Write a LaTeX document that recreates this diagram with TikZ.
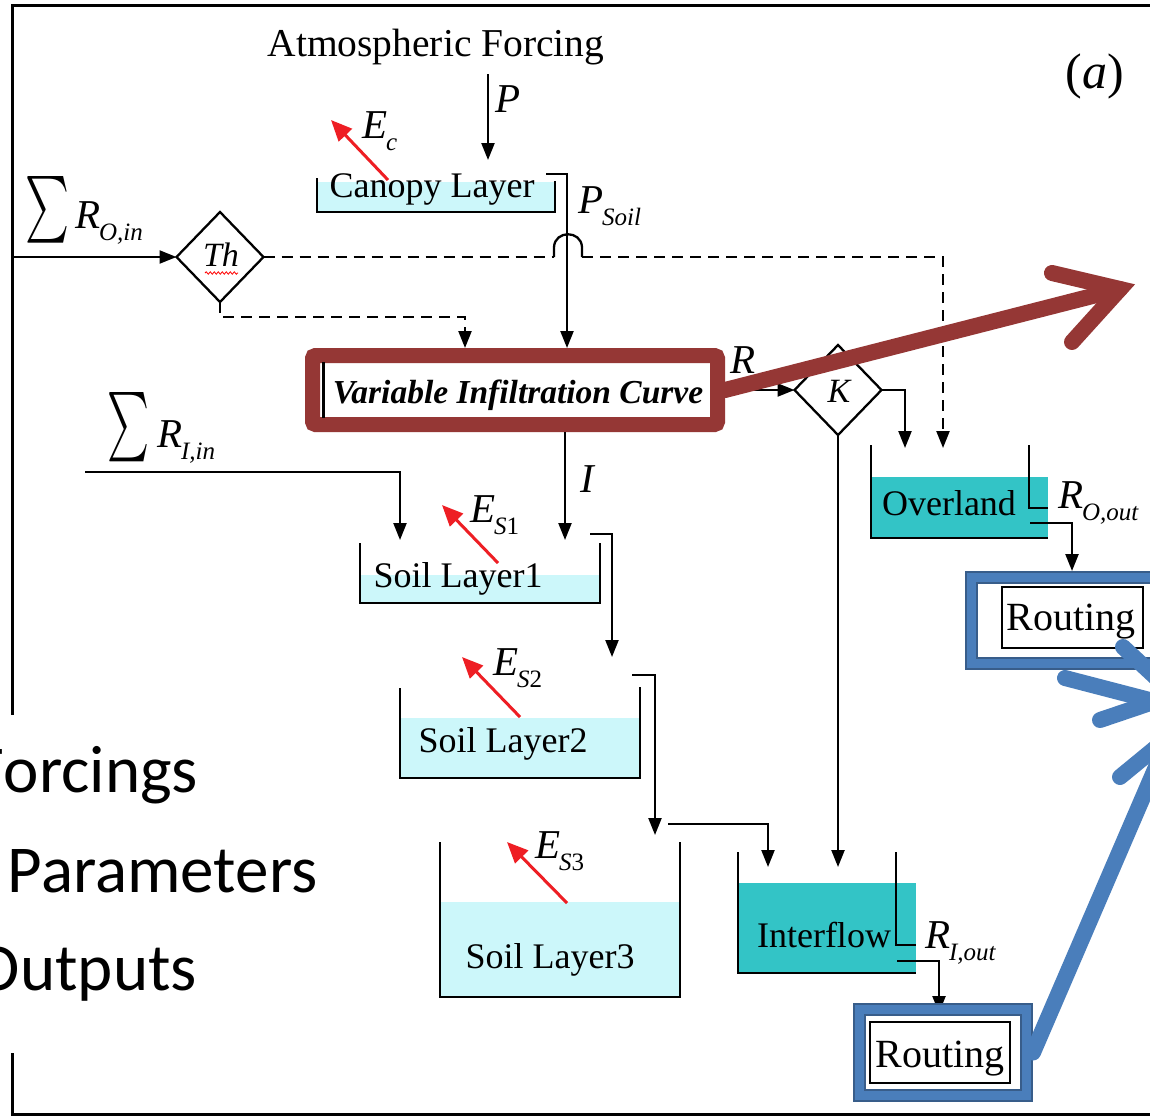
\documentclass[tikz,border=0pt]{standalone}
\usepackage{fontspec}
\usepackage{graphicx}
\setmainfont{Liberation Serif}
\newfontfamily\calfont{Carlito}
\usetikzlibrary{arrows.meta,shapes.geometric,decorations.pathmorphing}
\definecolor{lcyan}{RGB}{204,247,250}
\definecolor{tealf}{RGB}{51,196,198}
\definecolor{dred}{RGB}{149,55,53}
\definecolor{bblue}{RGB}{74,126,187}
\definecolor{dblue}{RGB}{56,93,138}
\definecolor{ered}{RGB}{238,30,36}
\newcommand{\vx}[2]{\textit{#1}\kern-1pt\raisebox{-12pt}{\fontsize{25}{26}\selectfont\textit{#2}}}
\begin{document}
\begin{tikzpicture}[x=1pt,y=-1pt,
  every node/.style={inner sep=0pt, outer sep=0pt},
  ln/.style={line width=2.3pt},
  wall/.style={line width=2.8pt},
  arr/.style={line width=2.3pt, -{Triangle[length=17pt,width=13pt]}},
  dsh/.style={line width=2.3pt, dash pattern=on 11pt off 7pt},
  evap/.style={draw=ered, line width=3pt, -{Triangle[length=21pt,width=18pt]}},
  lbl/.style={font=\fontsize{36}{40}\selectfont},
  var/.style={font=\fontsize{41}{44}\selectfont\itshape},
  dia/.style={diamond, draw, line width=2.3pt, minimum width=87pt, minimum height=90pt, aspect=1},
  bbox/.style={draw=dblue, double=bblue, line width=2pt, double distance=9pt, outer sep=6.5pt},
  rbox/.style={draw, line width=1.8pt},
  bigred/.style={draw=dred, line width=16pt, line cap=round, line join=miter},
  bigblue/.style={draw=bblue, line width=16pt, line cap=round}
]
\useasboundingbox (0,0) rectangle (1150,1117);
\clip (0,0) rectangle (1150,1117);
\fill[white] (0,0) rectangle (1150,1117);

% frame
\draw[line width=3pt] (1160,5) -- (12,5) -- (12,715);
\draw[line width=3pt] (12,1053) -- (12,1114) -- (1160,1114);

% texts
\node[font=\fontsize{39.5}{42}\selectfont, anchor=base] (atm) at (436,56) {Atmospheric Forcing};
\node[font=\fontsize{50}{52}\selectfont, anchor=base] (plabel) at (1095,88) {(\textit{a})};

% canopy
\fill[lcyan] (318,182) rectangle (554,211);
\draw[wall] (317,178) |- (555,212) -- (555,181);
\node[lbl, anchor=base] (canopy) at (432,197) {Canopy Layer};

% coordinates
\coordinate (pstart) at (488,74);
\coordinate (canin) at (488,160);
\coordinate (cov) at (546,174);
\coordinate (x567) at (567,0);
\coordinate (x465) at (465,0);
\coordinate (x1072) at (1072,0);
\coordinate (roin) at (12,257);
\coordinate (thd) at (220,317);
\coordinate (hopL) at (554,257);
\coordinate (hopR) at (582,257);
\coordinate (ovin2) at (943,448);
\coordinate (ovin1) at (905,448);
\coordinate (ifin2) at (838,867);
\coordinate (s1inR) at (565,540);
\coordinate (riin) at (85,472);
\coordinate (s1inL) at (400,540);
\coordinate (s1ov) at (590,534);
\coordinate (s2in) at (612,657);
\coordinate (s2ov) at (632,675);
\coordinate (s3in) at (655,835);
\coordinate (s3out) at (668,824);
\coordinate (ifin1) at (768,867);
\coordinate (ovout) at (1030,523);
\coordinate (ifout) at (897,961);
\coordinate (ifend) at (939,1013);

% VIC box
\node[draw=dred, line width=15pt, rounded corners=3pt, outer sep=7.5pt, minimum width=405pt, minimum height=69pt] (vic) at (515,390) {};
\draw[line width=3pt] (323,362) -- (323,418);
\node[font=\fontsize{33.5}{36}\selectfont\bfseries\itshape, anchor=base] (vict) at (518,403) {Variable Infiltration Curve};

% diamonds
\node[dia] (th) at (220,257) {};
\node[font=\fontsize{34}{36}\selectfont\itshape, anchor=base] (tht) at (221,266) {Th};
\draw[red, line width=0.8pt, decorate, decoration={snake, amplitude=1.2pt, segment length=4pt}] (205,273) -- (238,273);
\node[dia] (k) at (838,390) {};
\node[font=\fontsize{34}{36}\selectfont\itshape, anchor=base] (kt) at (839,402) {K};

% tanks
\fill[lcyan] (361,575) rectangle (599,602);
\draw[wall] (360,543) |- (600,603) -- (600,543);
\node[lbl, anchor=base] (s1) at (458,587) {Soil Layer1};
\fill[lcyan] (401,718) rectangle (639,777);
\draw[wall] (400,688) |- (640,778) -- (640,687);
\node[lbl, anchor=base] (s2) at (503,752) {Soil Layer2};
\fill[lcyan] (441,902) rectangle (679,996);
\draw[wall] (440,842) |- (680,997) -- (680,842);
\node[lbl, anchor=base] (s3) at (550,968) {Soil Layer3};
\fill[tealf] (872,477) rectangle (1048,537);
\draw[wall] (871,445) |- (1048,538);
\draw[wall] (1029,445) |- (1048,508);
\node[lbl, anchor=base] (ov) at (949,515) {Overland};
\fill[tealf] (739,883) rectangle (916,972);
\draw[wall] (738,852) |- (916,973);
\draw[wall] (896,852) |- (916,945);
\node[lbl, anchor=base] (ifl) at (824,947) {Interflow};

% connectors
\draw[arr] (pstart) -- (canin);
\draw[arr] (cov) -| (vic.north -| x567);
\draw[arr] (roin) -- (th.west);
\draw[dsh, -{Triangle[length=17pt,width=13pt]}] (th.south) -- (thd) -| (vic.north -| x465);
\draw[dsh] (th.east) -- (hopL);
\draw[ln] (hopL) -- (554,247) .. controls (555,230) and (581,230) .. (582,247) -- (hopR);
\draw[dsh, -{Triangle[length=17pt,width=13pt]}] (hopR) -| (ovin2);
\draw[arr] (vic.east) -- (k.west);
\draw[arr] (k.east) -| (ovin1);
\draw[arr] (k.south) -- (ifin2);
\draw[arr] (vic.south -| s1inR) -- (s1inR);
\draw[arr] (riin) -| (s1inL);
\draw[arr] (s1ov) -| (s2in);
\draw[arr] (s2ov) -| (s3in);
\draw[arr] (s3out) -| (ifin1);
\draw[arr] (ifout) -| (ifend);

% routing boxes
\node[rbox, minimum width=141pt, minimum height=61pt] (rt1) at (1072.5,617.5) {};
\node[font=\fontsize{40}{44}\selectfont, anchor=base] (rt1t) at (1071,630) {Routing};
\node[bbox, minimum width=197pt, minimum height=86pt] (rb1) at (1070,620.5) {};
\draw[arr] (ovout) -| (rb1.north -| x1072);
\node[rbox, minimum width=140pt, minimum height=61pt] (rt2) at (940,1052.5) {};
\node[font=\fontsize{40}{44}\selectfont, anchor=base] (rt2t) at (940,1067) {Routing};
\node[bbox, minimum width=167pt, minimum height=86pt] (rb2) at (943,1052.5) {};

% variable labels
\node[var, anchor=base west] (lp) at (495,112) {P};
\node[var, anchor=base west] (lps) at (578,213) {\vx{P}{Soil}};
\node[var, anchor=base west] (li) at (580,492) {I};
\node[var, anchor=base west] (lr) at (730,373) {R};
\node[var, anchor=base west] (lro) at (1058,508) {\vx{R}{O,out}};
\node[var, anchor=base west] (lri) at (925,948) {\vx{R}{I,out}};
\node[var, anchor=base west] (lec) at (362,138) {\vx{E}{c}};
\node[var, anchor=base west] (le1) at (470,522) {\vx{E}{S\textup{1}}};
\node[var, anchor=base west] (le2) at (493,675) {\vx{E}{S\textup{2}}};
\node[var, anchor=base west] (le3) at (535,858) {\vx{E}{S\textup{3}}};
\node[anchor=south west] (sum1) at (25,243) {\resizebox{44pt}{50pt}{$\sum$}};
\node[var, anchor=base west] (lroin) at (75,228) {\vx{R}{O,in}};
\node[anchor=south west] (sum2) at (107,462) {\resizebox{42pt}{52pt}{$\sum$}};
\node[var, anchor=base west] (lriin) at (157,447) {\vx{R}{I,in}};

% evaporation arrows
\draw[evap] (388,180) -- (331,120);
\draw[evap] (498,563) -- (442,505);
\draw[evap] (520,717) -- (462,657);
\draw[evap] (567,903) -- (507,842);

% overlay text
\node[font=\calfont\fontsize{67}{70}\selectfont, anchor=base west] (of) at (-26,792) {Forcings};
\node[font=\calfont\fontsize{67}{70}\selectfont, anchor=base west] (op) at (8,892) {Parameters};
\node[font=\calfont\fontsize{67}{70}\selectfont, anchor=base west] (oo) at (-24,990) {Outputs};

% big red arrow
\coordinate (rtip) at (1120,289);
\draw[bigred] (vic.east) -- (rtip);
\draw[bigred] (1052,273) -- (rtip) -- (1072,342);

% big blue arrows
\draw[bigblue] (rb2.east) -- (1165,746);
\draw[bigblue] (1120,777) -- (1165,740);
\draw[bigblue] (1100,720) -- (1165,698);
\draw[bigblue] (1065,678) -- (1165,704);
\draw[bigblue] (1123,647) -- (1165,686);
\end{tikzpicture}
\end{document}
